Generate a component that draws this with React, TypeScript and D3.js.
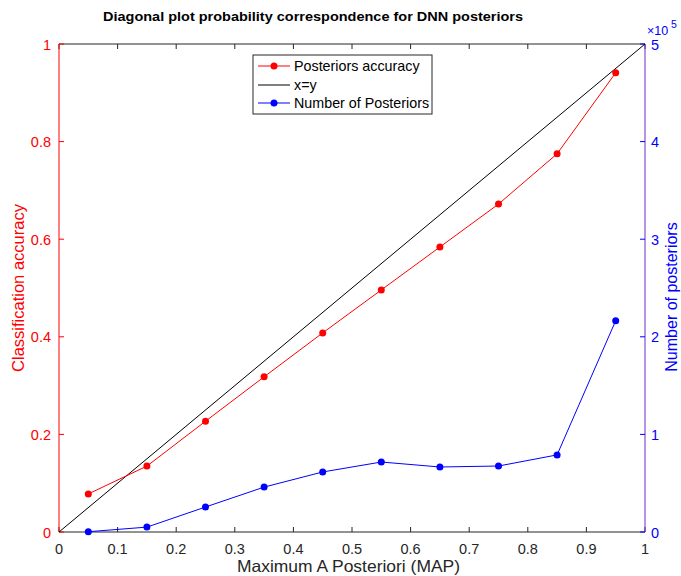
import React from "react";
import * as d3 from "d3";

const mapBins = [0.05, 0.15, 0.25, 0.35, 0.45, 0.55, 0.65, 0.75, 0.85, 0.95];
const accuracy = [0.078, 0.135, 0.227, 0.318, 0.408, 0.496, 0.584, 0.672, 0.775, 0.941];
const numPosteriors = [300, 5000, 25600, 46000, 61500, 71700, 66600, 67600, 79000, 216500];
const xTicks = [0, 0.1, 0.2, 0.3, 0.4, 0.5, 0.6, 0.7, 0.8, 0.9, 1];
const yLeftTicks = [0, 0.2, 0.4, 0.6, 0.8, 1];
const yRightTicks = [0, 1, 2, 3, 4, 5];

const W = 681, H = 576;
const L = 59, R = 645, T = 44, B = 532;
const font = "Liberation Sans, Arial, Helvetica, sans-serif";

export default function App() {
  const x = d3.scaleLinear().domain([0, 1]).range([L, R]);
  const yL = d3.scaleLinear().domain([0, 1]).range([B, T]);
  const yR = d3.scaleLinear().domain([0, 500000]).range([B, T]);
  const accLine = d3.line<number>().x((_, i) => x(mapBins[i])).y((d) => yL(d));
  const numLine = d3.line<number>().x((_, i) => x(mapBins[i])).y((d) => yR(d));
  const red = "#ff0000";
  const blue = "#0000ff";
  const tl = 5;
  const tickFs = 14.5;
  return (
    <svg width={W} height={H} style={{ position: "absolute", left: 0, top: 0 }} fontFamily={font}>
      <rect x={0} y={0} width={W} height={H} fill="#fff" />
      <text x={103} y={21} fontSize={13.5} fontWeight="bold" fill="#000" textLength={420} lengthAdjust="spacingAndGlyphs">
        Diagonal plot probability correspondence for DNN posteriors
      </text>
      {/* x ticks bottom/top */}
      {xTicks.map((t) => (
        <g key={t}>
          <line x1={x(t)} x2={x(t)} y1={B} y2={B - tl} stroke="#262626" />
          <line x1={x(t)} x2={x(t)} y1={T} y2={T + tl} stroke="#262626" />
          <text x={x(t)} y={554} textAnchor="middle" fontSize={tickFs} fill="#262626">{t}</text>
        </g>
      ))}
      <line x1={L} x2={R} y1={B} y2={B} stroke="#262626" />
      <line x1={L} x2={R} y1={T} y2={T} stroke="#262626" />
      <text x={237} y={572} fontSize={16.5} fill="#262626" textLength={223} lengthAdjust="spacingAndGlyphs">Maximum A Posteriori (MAP)</text>
      {/* left axis */}
      <line x1={L} x2={L} y1={T} y2={B} stroke={red} />
      {yLeftTicks.map((t) => (
        <g key={t}>
          <line x1={L} x2={L + tl} y1={yL(t)} y2={yL(t)} stroke={red} />
          <text x={L - 8} y={yL(t) + 5.5} textAnchor="end" fontSize={tickFs} fill={red}>{t}</text>
        </g>
      ))}
      <text transform={`translate(24,${(T + B) / 2}) rotate(-90)`} textAnchor="middle" fontSize={16.5} fill={red}>Classification accuracy</text>
      {/* right axis */}
      <line x1={R} x2={R} y1={T} y2={B} stroke="#6a2bd0" />
      {yRightTicks.map((t) => (
        <g key={t}>
          <line x1={R} x2={R - tl} y1={yR(t * 100000)} y2={yR(t * 100000)} stroke={blue} />
          <text x={R + 6} y={yR(t * 100000) + 5.5} textAnchor="start" fontSize={tickFs} fill={blue}>{t}</text>
        </g>
      ))}
      <text x={647} y={35} fontSize={12.5} fill={blue}>×10</text>
      <text x={671} y={28} fontSize={10.5} fill={blue}>5</text>
      <text transform={`translate(677,${(T + B) / 2 + 9}) rotate(-90)`} textAnchor="middle" fontSize={16} fill={blue}>Number of posteriors</text>
      {/* data */}
      <line x1={x(0)} y1={yL(0)} x2={x(1)} y2={yL(1)} stroke="#000" strokeWidth={1} />
      <path d={accLine(accuracy) || ""} fill="none" stroke={red} strokeWidth={1} />
      {accuracy.map((d, i) => (
        <circle key={i} cx={x(mapBins[i])} cy={yL(d)} r={3.5} fill={red} />
      ))}
      <path d={numLine(numPosteriors) || ""} fill="none" stroke={blue} strokeWidth={1} />
      {numPosteriors.map((d, i) => (
        <circle key={i} cx={x(mapBins[i])} cy={yR(d)} r={3.5} fill={blue} />
      ))}
      {/* legend */}
      <rect x={253} y={55} width={179} height={59} fill="#fff" stroke="#262626" strokeWidth={1} />
      <line x1={258} x2={290} y1={66} y2={66} stroke={red} />
      <circle cx={274} cy={66} r={3.5} fill={red} />
      <text x={294} y={71} fontSize={14.3} fill="#000">Posteriors accuracy</text>
      <line x1={258} x2={290} y1={85} y2={85} stroke="#000" />
      <text x={294} y={90} fontSize={14.3} fill="#000">x=y</text>
      <line x1={258} x2={290} y1={103} y2={103} stroke={blue} />
      <circle cx={274} cy={103} r={3.5} fill={blue} />
      <text x={294} y={108} fontSize={14.3} fill="#000">Number of Posteriors</text>
    </svg>
  );
}
